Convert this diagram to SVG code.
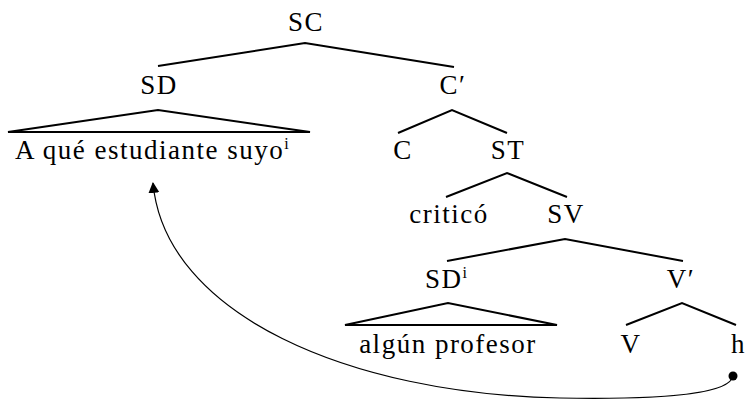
<svg xmlns="http://www.w3.org/2000/svg" width="747" height="400" viewBox="0 0 747 400">
<style>
text{font-family:"Liberation Serif","DejaVu Serif",serif;font-size:27px;letter-spacing:1.5px;fill:#000}
.m{text-anchor:middle}
.sup{font-size:16px;letter-spacing:0}
.br{stroke:#000;stroke-width:2;fill:none;stroke-linecap:butt}
.mv{stroke:#000;stroke-width:1.2;fill:none}
</style>
<defs>
<marker id="ah" viewBox="0 0 10 10" refX="9" refY="5" markerWidth="11" markerHeight="12" markerUnits="userSpaceOnUse" orient="auto">
<path d="M0,0 L10,5 L0,10 Z" fill="#000"/>
</marker>
</defs>
<rect width="747" height="400" fill="#fff"/>
<g id="connectors">
<path class="br" d="M158,66 L305,43 L454,67"/>
<path class="br" d="M398,133 L452,110 L507,133"/>
<path class="br" d="M446,197 L507,173 L567,197"/>
<path class="br" d="M447,261 L565,239 L683,261"/>
<path class="br" d="M626,325 L682,303 L736,325"/>
<path class="br" d="M8,132 L158,110 L310,132 Z"/>
<path class="br" d="M345,325 L448,303 L557,325 Z"/>
<path class="mv" d="M733,376 C730,392 680,400 560,398 C350,394 165,315 153,183" marker-end="url(#ah)"/>
<circle cx="733" cy="376" r="4.5" fill="#000"/>
</g>
<g id="n-SC"><text class="m" x="306" y="31">SC</text></g>
<g id="n-SD"><text class="m" x="159" y="94">SD</text></g>
<g id="n-Cbar"><text class="m" x="453" y="94">C′</text></g>
<g id="n-wh"><text x="15" y="159">A qué estudiante suyo<tspan class="sup" dy="-10">i</tspan></text></g>
<g id="n-C"><text class="m" x="403" y="159">C</text></g>
<g id="n-ST"><text class="m" x="508" y="159">ST</text></g>
<g id="n-critico"><text class="m" x="449" y="223">criticó</text></g>
<g id="n-SV"><text class="m" x="566" y="223">SV</text></g>
<g id="n-SDi"><text x="425" y="288">SD<tspan class="sup" dy="-10">i</tspan></text></g>
<g id="n-Vbar"><text class="m" x="681" y="288">V′</text></g>
<g id="n-algun"><text class="m" x="448" y="353">algún profesor</text></g>
<g id="n-V"><text class="m" x="631" y="353">V</text></g>
<g id="n-h"><text x="731" y="353" style="letter-spacing:0">h</text></g>
</svg>
